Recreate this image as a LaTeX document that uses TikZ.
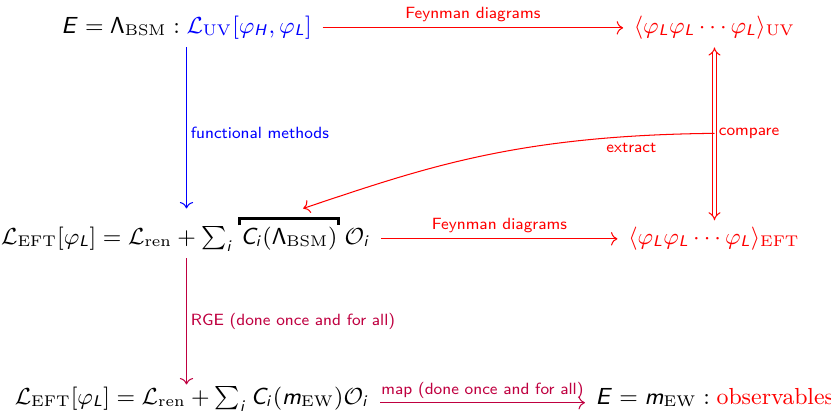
\documentclass[tikz,border=0pt]{standalone}
\usepackage{amsmath}
\usepackage{xcolor}
\usepackage{tikz}
\usetikzlibrary{arrows.meta,positioning}
\DeclareMathAlphabet{\mathsfit}{OT1}{cmss}{m}{sl}
\newcommand{\sLam}{\mathsf{\Lambda}}
\newcommand{\fL}{\varphi_{\mathsfit{L}}}
\definecolor{rgepink}{rgb}{0.75,0,0.25}

\begin{document}
\begin{tikzpicture}[x=0.3876pt,y=-0.3876pt,
  eq/.style={inner sep=0pt,text height=7pt,text depth=3pt,anchor=base,font=\fontsize{9}{11}\selectfont},
  lbl/.style={font=\sffamily\fontsize{6.3}{7.5}\selectfont,inner sep=1.5pt},
  link/.style={-{Computer Modern Rightarrow},thin,shorten <=4pt,shorten >=4pt},
  dbl/.style={double,double distance=1.2pt,{Implies}-{Implies},shorten <=2.4pt,shorten >=2pt},
  brkt/.style={line width=1.2pt}
]
\useasboundingbox (0,0) rectangle (831,417);

\node[eq] (uvL) at (186.5,33) {$\mathsfit{E}=\sLam_{\mathrm{BSM}}:{\color{blue}\mathcal{L}_{\mathrm{UV}}[\varphi_{\mathsfit{H}},\fL]}$};
\node[eq,red] (uvR) at (714.5,33) {$\langle\fL\fL\cdots\fL\rangle_{\mathrm{UV}}$};

\node[eq] (cib) at (289,244) {$\mathsfit{C}_{\mathsfit{i}}(\sLam_{\mathrm{BSM}})$};
\node[eq,left=2.4pt of cib] (lhsB) {$\mathcal{L}_{\mathrm{EFT}}[\fL]=\mathcal{L}_{\mathrm{ren}}+\sum_{\mathsfit{i}}$};
\node[eq,right=2.4pt of cib] (opO) {$\mathcal{O}_{\mathsfit{i}}$};
\node[eq,red] (eftR) at (714,244) {$\langle\fL\fL\cdots\fL\rangle_{\mathrm{EFT}}$};

\node[eq] (ewL) at (192,404) {$\mathcal{L}_{\mathrm{EFT}}[\fL]=\mathcal{L}_{\mathrm{ren}}+\sum_{\mathsfit{i}}\mathsfit{C}_{\mathsfit{i}}(\mathsfit{m}_{\mathrm{EW}})\mathcal{O}_{\mathsfit{i}}$};
\node[eq] (ewR) at (715,404) {$\mathsfit{E}=\mathsfit{m}_{\mathrm{EW}}:{\color{red}\mathrm{observables}}$};

% bracket over the matching coefficients
\draw[brkt] ([xshift=-0.3pt]cib.north west) |- ([yshift=2.6pt]cib.north) -| ([xshift=0.3pt]cib.north east);
\coordinate (xtip) at ([xshift=5.5pt,yshift=6.6pt]cib.north);

\draw[link,red] (uvL) -- node[lbl,above=0.5pt]{Feynman diagrams} (uvR);
\draw[link,red] (opO) -- node[lbl,above=0.5pt]{Feynman diagrams} (eftR);
\draw[link,rgepink] ([yshift=-1.5pt]ewL.east) -- node[lbl,above=0pt]{map (done once and for all)} ([yshift=-1.5pt]ewR.west);

\draw[link,blue,shorten <=2.4pt,shorten >=6.6pt] (uvL.south) -- node[lbl,right]{functional methods} (uvL.south |- cib.north);
\draw[link,rgepink,shorten <=2.4pt,shorten >=0.4pt] (uvL.south |- lhsB.south) -- node[lbl,right,yshift=-1pt]{RGE (done once and for all)} (uvL.south |- ewL.north);
\draw[dbl,red] (uvR.south) -- node[lbl,right]{compare} coordinate[midway] (cmp) (uvR.south |- eftR.north);

\draw[link,red,shorten <=0pt,shorten >=0pt] (cmp) .. controls +(-200,2) and +(120,-40) .. node[lbl,pos=0.15,below=1pt]{extract} (xtip);
\end{tikzpicture}
\end{document}
